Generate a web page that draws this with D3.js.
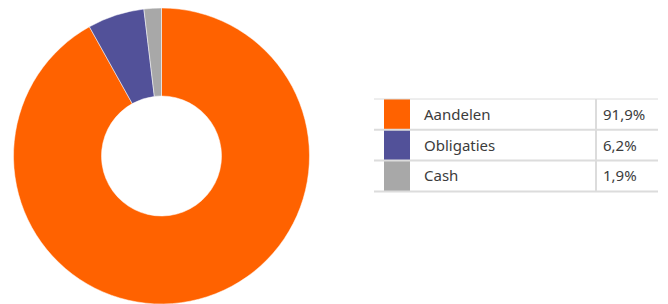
<!DOCTYPE html>
<html>
<head>
<meta charset="utf-8">
<script src="https://cdn.jsdelivr.net/npm/d3@7"></script>
<style>
  body { margin: 0; background: #fff; }
  text { font-family: "Noto Sans", "Open Sans", sans-serif; }
</style>
</head>
<body>
<div id="chart"></div>
<script>
// data
const categories = ['Aandelen', 'Obligaties', 'Cash'];
const values = [91.9, 6.2, 1.9];
const valueLabels = ['91,9%', '6,2%', '1,9%'];
const colors = ['#ff6200', '#525199', '#a8a8a8'];

const svg_width = 668;
const svg_height = 304;

const svg = d3.select('#chart')
    .append('svg')
    .attr('width', svg_width).attr('height', svg_height);

// donut
const cx = 161.5, cy = 156;
const outerR = 148, innerR = 60;

const pie = d3.pie().sort(null).value(d => d.value);
const arc = d3.arc().innerRadius(innerR).outerRadius(outerR);

const slices = categories.map((c, i) => ({ name: c, value: values[i], color: colors[i] }));

svg.append('g')
    .attr('transform', `translate(${cx},${cy})`)
    .selectAll('path')
    .data(pie(slices)).enter()
    .append('path')
        .attr('d', arc)
        .style('fill', d => d.data.color)
        .style('stroke', '#fff')
        .style('stroke-width', 0.5);

// legend table
const table = { x: 374, y: 99, width: 284, rowH: 30.8, swatchX: 384, swatchW: 26, textX: 424, sepX: 596, valX: 603 };

const rowScale = d3.scaleBand()
    .domain(categories)
    .range([table.y, table.y + table.rowH * categories.length])
    .paddingInner(0);

const tg = svg.append('g').attr('class', 'legend-table');

const rows = tg.selectAll('.row')
    .data(slices).enter()
    .append('g')
    .attr('class', 'row')
    .attr('transform', d => `translate(0,${rowScale(d.name)})`);

rows.append('rect')
    .attr('x', table.swatchX).attr('y', 0)
    .attr('width', table.swatchW).attr('height', rowScale.bandwidth())
    .style('fill', d => d.color);

rows.append('text')
    .attr('x', table.textX).attr('y', rowScale.bandwidth() / 2)
    .attr('dy', '0.36em')
    .style('font-size', '15px')
    .style('fill', '#3c3c3c')
    .text(d => d.name);

rows.append('text')
    .attr('x', table.valX).attr('y', rowScale.bandwidth() / 2)
    .attr('dy', '0.36em')
    .style('font-size', '15px')
    .style('fill', '#3c3c3c')
    .text((d, i) => valueLabels[i]);

// horizontal borders
const borderYs = d3.range(categories.length + 1).map(i => table.y + i * table.rowH);
tg.selectAll('.hline')
    .data(borderYs).enter()
    .append('line')
    .attr('x1', table.x).attr('x2', table.x + table.width)
    .attr('y1', d => d).attr('y2', d => d)
    .style('stroke', '#dcdcdc')
    .style('stroke-width', (d, i) => i === 0 ? 1 : 2);

// vertical separator
tg.append('line')
    .attr('x1', table.sepX).attr('x2', table.sepX)
    .attr('y1', table.y).attr('y2', table.y + table.rowH * categories.length)
    .style('stroke', '#dcdcdc')
    .style('stroke-width', 2);
</script>
</body>
</html>
